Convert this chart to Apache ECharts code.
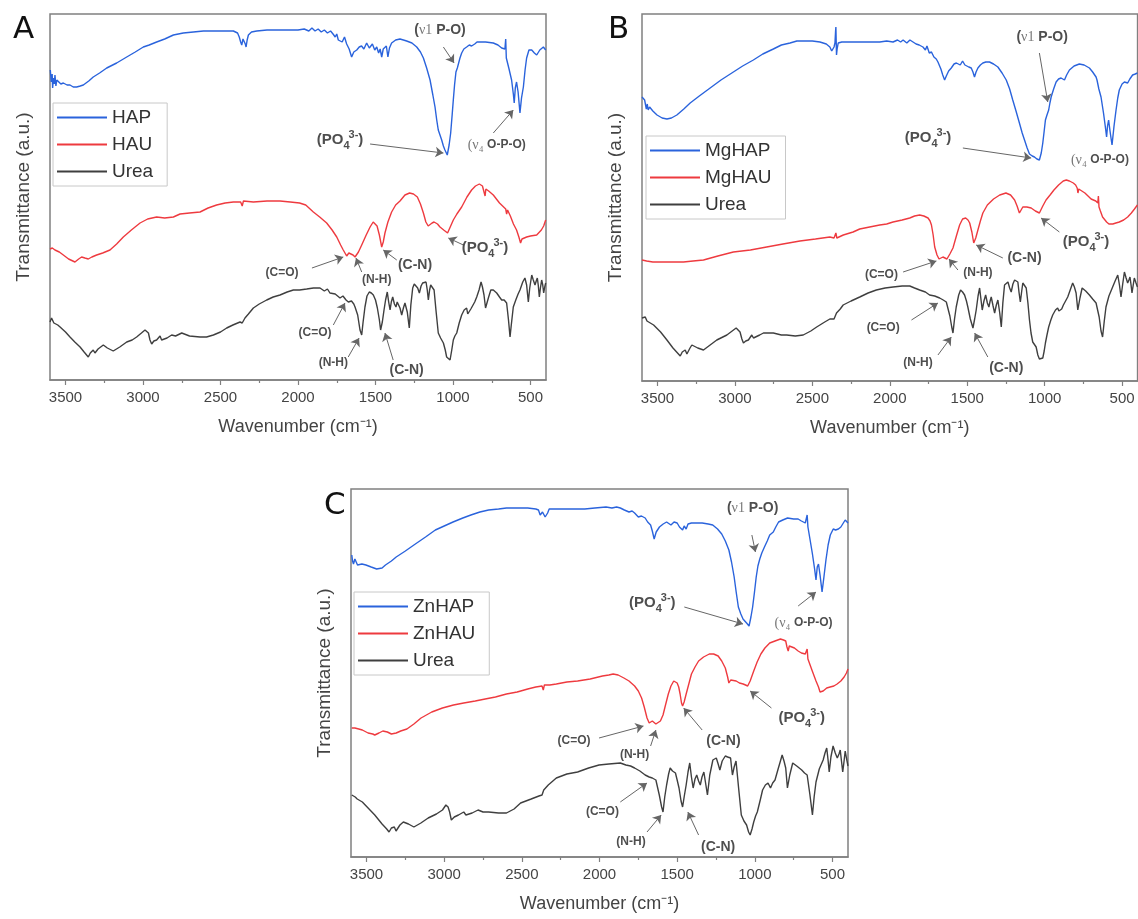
<!DOCTYPE html>
<html>
<head>
<meta charset="utf-8">
<script src="https://cdn.jsdelivr.net/npm/echarts@6.0.0/dist/echarts.min.js"></script>
<style>
html, body { margin: 0; padding: 0; background: #fff; }
#chart { width: 1138px; height: 919px; }
</style>
</head>
<body>
<div id="chart"></div>
<script>
// wavenumber axis (cm-1)
const xTicks = [500, 1000, 1500, 2000, 2500, 3000, 3500];
const xMinorTicks = [750, 1250, 1750, 2250, 2750, 3250];

// ---- panel A : [wavenumber, transmittance (a.u., offset)] ----
const hapA = [[3598,310],[3592,298],[3586,306],[3583,292],[3578,302],[3572,296],[3568,305],[3562,294],[3556,300],[3546,298],[3530,296],[3514,297],[3490,295],[3471,295],[3450,293],[3428,293],[3405,294],[3385,295],[3350,299],[3321,303],[3280,307],[3234,312],[3170,317],[3105,323],[3050,328],[2998,333],[2960,335],[2912,338],[2860,341],[2804,345],[2740,347],[2675,348],[2610,349],[2546,349],[2480,349],[2417,349],[2390,347],[2379,343],[2370,338],[2363,335],[2355,341],[2348,340],[2340,336],[2335,333],[2328,340],[2320,345],[2300,348],[2266,349],[2200,350],[2116,350],[2050,350],[2000,350],[1960,351],[1930,349],[1910,352],[1890,349],[1870,351],[1850,348],[1830,350],[1810,347],[1790,349],[1774,346],[1760,343],[1750,346],[1740,340],[1729,342],[1715,338],[1700,343],[1686,336],[1670,331],[1654,323],[1640,328],[1621,330],[1605,333],[1590,334],[1575,331],[1557,337],[1540,332],[1520,336],[1505,330],[1492,333],[1480,327],[1470,331],[1460,323],[1450,331],[1440,329],[1430,334],[1420,323],[1410,332],[1396,337],[1370,340],[1342,341],[1320,340],[1299,339],[1265,337],[1234,333],[1210,328],[1191,322],[1170,312],[1148,300],[1130,285],[1116,273],[1105,260],[1095,250],[1084,245],[1073,240],[1062,234],[1052,230],[1037,225],[1025,235],[1015,247],[1005,266],[998,280],[990,295],[981,308],[972,312],[966,313],[955,322],[944,327],[930,331],[912,333],[895,335],[880,334],[870,332],[860,336],[845,338],[826,338],[790,338],[740,337],[710,335],[686,332],[665,331],[660,341],[656,322],[640,312],[622,300],[610,285],[605,277],[598,292],[590,298],[580,288],[568,267],[558,282],[546,293],[535,310],[525,322],[510,330],[492,330],[475,327],[460,325],[440,330],[417,333],[402,330]];
const hauA = [[3600,131],[3585,132],[3568,130],[3540,128],[3514,125],[3480,121],[3439,118],[3415,121],[3396,123],[3375,122],[3353,121],[3330,123],[3299,125],[3260,127],[3213,130],[3170,136],[3127,143],[3075,150],[3019,157],[2970,161],[2912,163],[2860,162],[2804,163],[2761,166],[2700,167],[2632,168],[2580,172],[2525,175],[2470,177],[2417,178],[2370,178],[2360,174],[2352,179],[2340,178],[2288,178],[2200,179],[2116,179],[2050,178],[1990,177],[1950,175],[1901,168],[1860,163],[1815,157],[1780,150],[1750,143],[1725,135],[1708,130],[1686,124],[1672,127],[1660,129],[1645,125],[1632,123],[1610,128],[1589,135],[1560,145],[1535,153],[1515,158],[1503,157],[1490,154],[1475,145],[1460,133],[1450,138],[1439,147],[1420,158],[1396,168],[1370,175],[1342,179],[1310,185],[1280,187],[1255,186],[1230,183],[1210,176],[1191,167],[1175,158],[1160,154],[1148,153],[1135,157],[1122,158],[1100,156],[1084,153],[1060,150],[1035,147],[1015,154],[998,160],[975,166],[944,173],[910,183],[880,190],[855,194],[830,196],[810,194],[798,193],[793,184],[788,191],[770,189],[740,185],[720,181],[700,177],[680,174],[660,171],[654,166],[648,170],[630,164],[610,156],[590,150],[575,143],[564,137],[555,141],[545,142],[525,143],[500,144],[460,145],[430,150],[415,154],[402,160]];
const ureaA = [[3600,58],[3590,62],[3583,60],[3575,57],[3568,57],[3550,55],[3535,53],[3500,48],[3471,43],[3440,38],[3406,33],[3380,28],[3353,23],[3340,27],[3330,25],[3321,30],[3310,27],[3299,27],[3290,31],[3282,33],[3256,35],[3230,32],[3192,29],[3150,33],[3105,38],[3070,40],[3041,43],[3010,47],[2987,50],[2975,49],[2965,47],[2955,40],[2944,36],[2930,39],[2912,40],[2890,44],[2880,40],[2869,39],[2845,42],[2815,45],[2790,44],[2750,47],[2700,44],[2632,43],[2590,43],[2546,45],[2500,48],[2460,52],[2420,55],[2374,58],[2360,57],[2342,62],[2320,66],[2288,72],[2250,76],[2202,80],[2160,83],[2116,85],[2070,88],[2030,90],[1990,90],[1944,91],[1900,92],[1858,92],[1830,89],[1810,91],[1794,87],[1760,86],[1729,82],[1710,84],[1690,80],[1675,78],[1655,79],[1640,76],[1632,73],[1615,65],[1600,50],[1589,45],[1580,58],[1568,73],[1555,84],[1540,88],[1527,87],[1514,85],[1500,80],[1488,72],[1475,60],[1467,50],[1456,58],[1445,70],[1435,80],[1424,88],[1415,78],[1406,70],[1398,78],[1389,83],[1378,76],[1368,73],[1360,78],[1353,80],[1342,72],[1331,65],[1320,72],[1310,77],[1295,68],[1282,52],[1272,75],[1260,92],[1250,96],[1239,97],[1228,92],[1217,87],[1206,94],[1196,97],[1185,98],[1174,98],[1166,90],[1159,80],[1151,90],[1144,95],[1133,93],[1122,90],[1110,70],[1095,47],[1080,42],[1062,37],[1050,30],[1041,23],[1030,22],[1019,20],[1008,30],[998,40],[988,44],[976,47],[960,57],[944,65],[928,70],[912,72],[905,66],[895,67],[885,71],[873,73],[860,78],[847,83],[832,90],[819,98],[810,93],[800,85],[790,72],[782,70],[770,83],[756,90],[740,90],[718,87],[700,83],[686,80],[670,80],[654,77],[642,60],[632,43],[624,55],[611,73],[595,80],[580,86],[568,90],[550,98],[536,102],[525,95],[514,78],[505,92],[492,105],[482,100],[471,95],[463,99],[456,102],[450,95],[443,83],[436,92],[428,100],[421,95],[415,87],[408,93],[402,97]];

// ---- panel B ----
const mghapB = [[3600,284],[3590,282],[3583,281],[3577,276],[3572,272],[3566,277],[3560,271],[3551,274],[3530,270],[3503,266],[3470,263],[3439,262],[3410,263],[3375,266],[3330,272],[3289,278],[3230,285],[3160,293],[3090,301],[3010,309],[2950,315],[2881,321],[2820,327],[2752,332],[2700,336],[2644,338],[2600,340],[2559,340],[2500,340],[2451,339],[2410,337],[2387,334],[2375,330],[2369,328],[2360,334],[2354,338],[2350,350],[2348,354],[2346,340],[2344,326],[2340,332],[2333,338],[2310,339],[2279,339],[2194,339],[2120,339],[2065,339],[2020,340],[1979,339],[1950,341],[1930,339],[1914,341],[1890,338],[1870,341],[1850,339],[1830,337],[1810,336],[1786,334],[1770,331],[1760,335],[1745,328],[1731,329],[1715,324],[1700,322],[1689,319],[1670,312],[1658,306],[1646,301],[1635,305],[1620,310],[1603,313],[1585,317],[1570,318],[1560,320],[1545,316],[1530,320],[1515,316],[1506,318],[1490,314],[1480,316],[1474,313],[1463,309],[1453,304],[1443,309],[1431,313],[1415,316],[1399,318],[1380,319],[1356,319],[1330,317],[1302,314],[1275,308],[1248,301],[1226,292],[1206,281],[1185,270],[1163,258],[1145,248],[1130,241],[1113,233],[1098,227],[1080,225],[1066,224],[1050,222],[1034,221],[1022,228],[1012,238],[1003,250],[995,261],[985,266],[974,271],[966,278],[958,284],[942,292],[926,299],[910,302],[894,303],[883,302],[872,301],[858,306],[840,311],[810,315],[776,317],[745,316],[711,313],[690,309],[668,304],[664,306],[662,301],[650,292],[636,284],[620,268],[608,254],[600,244],[594,255],[587,261],[578,250],[565,236],[552,255],[539,271],[528,283],[518,291],[500,297],[485,299],[474,297],[464,298],[450,302],[432,306],[415,307],[401,308]];
const mghauB = [[3600,121],[3570,120],[3530,119],[3471,119],[3400,119],[3332,119],[3270,120],[3203,121],[3110,125],[3010,129],[2900,131],[2795,134],[2690,137],[2580,140],[2480,142],[2387,144],[2360,143],[2354,141],[2348,148],[2342,143],[2300,146],[2237,149],[2194,152],[2130,154],[2065,156],[2020,157],[1979,159],[1920,161],[1871,163],[1840,165],[1807,166],[1780,165],[1753,163],[1740,160],[1731,156],[1720,146],[1710,134],[1695,126],[1682,122],[1670,123],[1657,124],[1645,123],[1631,122],[1612,127],[1592,133],[1570,145],[1549,156],[1530,162],[1510,163],[1495,161],[1484,158],[1470,149],[1458,138],[1445,143],[1431,151],[1415,160],[1399,168],[1370,176],[1330,182],[1290,186],[1250,188],[1220,186],[1194,181],[1178,175],[1163,168],[1152,171],[1141,174],[1115,174],[1087,173],[1060,170],[1034,168],[1012,175],[991,181],[965,186],[940,191],[910,196],[880,200],[860,201],[840,200],[815,198],[800,196],[790,193],[785,188],[780,192],[770,193],[740,188],[700,182],[670,180],[657,178],[653,185],[649,174],[640,170],[626,164],[600,159],[585,157],[575,156],[560,157],[540,158],[518,159],[490,161],[464,164],[440,168],[420,172],[401,176]];
const ureaB = [[3600,63],[3590,65],[3579,64],[3568,60],[3557,58],[3525,56],[3480,49],[3439,41],[3400,33],[3353,25],[3340,29],[3321,31],[3310,27],[3300,28],[3290,33],[3278,36],[3240,33],[3203,31],[3160,36],[3117,41],[3052,46],[2992,53],[2980,52],[2967,49],[2955,42],[2945,38],[2930,40],[2913,41],[2891,46],[2880,43],[2870,42],[2840,46],[2816,48],[2752,48],[2700,46],[2666,46],[2610,45],[2559,46],[2510,50],[2472,54],[2420,59],[2387,62],[2360,62],[2354,64],[2344,68],[2320,72],[2301,76],[2250,80],[2194,84],[2140,88],[2087,91],[2030,93],[1979,94],[1920,95],[1871,95],[1840,93],[1807,91],[1770,89],[1743,86],[1710,85],[1678,83],[1655,81],[1635,79],[1612,65],[1600,54],[1592,48],[1582,62],[1571,74],[1555,86],[1543,91],[1530,89],[1517,86],[1505,80],[1496,74],[1480,62],[1463,53],[1452,62],[1442,71],[1430,85],[1420,93],[1410,80],[1403,71],[1392,80],[1381,86],[1370,78],[1360,74],[1352,80],[1345,84],[1333,75],[1323,68],[1312,76],[1302,81],[1290,68],[1280,54],[1270,78],[1259,96],[1248,98],[1237,99],[1226,93],[1216,89],[1205,97],[1194,101],[1184,100],[1173,99],[1165,88],[1157,79],[1148,90],[1141,98],[1130,96],[1119,93],[1108,78],[1098,61],[1088,48],[1077,39],[1066,37],[1055,34],[1044,26],[1034,22],[1023,22],[1012,23],[1003,30],[995,38],[985,46],[974,54],[960,61],[948,66],[930,71],[916,73],[908,70],[900,68],[890,72],[879,76],[865,80],[851,84],[835,91],[819,98],[808,94],[797,88],[786,71],[772,83],[758,93],[735,90],[711,86],[690,82],[668,78],[648,64],[636,50],[626,44],[615,60],[604,74],[585,85],[561,94],[545,100],[528,106],[517,96],[507,84],[496,97],[485,109],[474,103],[464,98],[456,101],[449,104],[442,96],[436,88],[428,96],[421,103],[410,98],[401,94]];

// ---- panel C ----
const znhapC = [[3595,302],[3590,296],[3584,293],[3575,298],[3566,300],[3558,292],[3550,292],[3530,293],[3504,292],[3470,290],[3435,288],[3424,287],[3400,289],[3378,292],[3340,296],[3309,300],[3250,306],[3195,312],[3120,320],[3057,327],[3000,331],[2943,335],[2880,339],[2828,342],[2770,345],[2714,347],[2650,348],[2599,349],[2530,349],[2462,349],[2410,348],[2393,347],[2382,342],[2375,340],[2367,345],[2359,344],[2350,340],[2343,339],[2334,344],[2324,348],[2280,348],[2233,348],[2160,348],[2095,348],[2030,349],[1958,350],[1920,349],[1890,350],[1866,349],[1840,347],[1810,345],[1790,346],[1774,344],[1750,340],[1730,341],[1706,339],[1690,335],[1671,332],[1660,326],[1648,318],[1635,325],[1614,330],[1590,333],[1568,335],[1540,332],[1520,335],[1500,334],[1485,330],[1475,332],[1465,327],[1455,331],[1442,328],[1430,333],[1408,334],[1370,334],[1339,334],[1300,333],[1271,332],[1240,328],[1213,323],[1190,316],[1167,307],[1150,295],[1133,280],[1120,265],[1106,250],[1090,243],[1076,238],[1065,236],[1053,234],[1037,231],[1025,240],[1014,250],[1002,265],[991,280],[980,291],[968,298],[955,304],[938,310],[920,316],[904,322],[892,324],[881,325],[865,330],[847,335],[820,337],[789,339],[750,338],[721,338],[700,336],[675,334],[665,333],[663,342],[658,330],[645,318],[629,303],[615,288],[606,277],[598,290],[590,293],[580,282],[567,265],[555,280],[542,297],[528,312],[514,322],[495,328],[480,327],[462,328],[446,330],[430,334],[418,337],[408,335],[400,334]];
const znhauC = [[3595,129],[3575,129],[3550,128],[3527,127],[3490,124],[3460,123],[3447,122],[3420,124],[3395,126],[3366,125],[3340,123],[3309,124],[3280,126],[3240,128],[3195,133],[3149,139],[3080,145],[3011,149],[2940,152],[2874,154],[2800,156],[2736,158],[2670,160],[2599,163],[2530,165],[2462,168],[2410,170],[2370,171],[2362,167],[2355,172],[2320,172],[2278,173],[2210,175],[2141,176],[2060,178],[1981,181],[1940,182],[1912,183],[1880,182],[1843,179],[1810,176],[1774,171],[1750,166],[1729,159],[1712,150],[1694,139],[1680,134],[1671,132],[1660,136],[1648,136],[1637,133],[1625,132],[1608,136],[1591,142],[1575,152],[1557,163],[1540,171],[1522,176],[1510,176],[1500,174],[1490,170],[1481,163],[1472,154],[1465,151],[1455,155],[1442,163],[1425,173],[1408,183],[1385,190],[1362,196],[1330,200],[1293,203],[1265,203],[1236,201],[1213,196],[1190,189],[1175,180],[1167,174],[1155,177],[1144,178],[1120,176],[1099,174],[1075,173],[1060,172],[1046,171],[1030,176],[1007,186],[985,195],[961,203],[935,209],[904,214],[870,216],[835,218],[815,217],[801,216],[793,210],[785,206],[778,211],[767,211],[745,209],[721,206],[700,204],[675,203],[665,202],[663,208],[658,198],[652,196],[630,186],[606,176],[590,170],[580,165],[572,163],[560,166],[537,169],[515,170],[491,171],[470,173],[446,176],[425,180],[410,184],[400,188]];
const ureaC = [[3595,62],[3585,63],[3573,60],[3560,58],[3527,55],[3490,49],[3447,42],[3400,33],[3370,28],[3355,25],[3340,29],[3321,30],[3310,26],[3298,27],[3285,32],[3263,35],[3230,33],[3195,30],[3150,34],[3103,39],[3050,43],[3011,47],[2989,52],[2975,50],[2965,45],[2954,37],[2935,40],[2908,42],[2874,45],[2860,42],[2851,40],[2820,44],[2782,47],[2750,45],[2714,45],[2650,44],[2599,44],[2550,48],[2508,54],[2440,58],[2390,61],[2370,62],[2359,67],[2330,72],[2278,79],[2210,83],[2141,85],[2070,89],[2003,92],[1940,93],[1866,94],[1830,92],[1800,91],[1774,89],[1740,86],[1706,82],[1680,80],[1660,79],[1637,77],[1615,62],[1600,50],[1591,45],[1580,60],[1568,72],[1555,83],[1545,89],[1530,86],[1511,84],[1500,77],[1488,69],[1475,56],[1465,50],[1455,60],[1442,72],[1430,85],[1419,94],[1408,80],[1397,69],[1385,78],[1374,82],[1362,76],[1351,72],[1340,80],[1328,85],[1315,72],[1305,62],[1290,82],[1270,97],[1258,98],[1248,99],[1236,93],[1225,87],[1210,96],[1190,101],[1175,100],[1156,99],[1150,90],[1144,82],[1133,90],[1121,96],[1105,70],[1087,42],[1070,36],[1053,32],[1040,25],[1030,22],[1018,28],[1007,35],[995,41],[984,45],[965,57],[950,67],[932,72],[915,74],[899,69],[885,74],[870,77],[850,88],[835,96],[824,102],[812,96],[801,89],[790,69],[775,82],[756,94],[730,91],[698,87],[680,84],[663,82],[645,62],[629,42],[618,60],[606,75],[585,88],[560,97],[548,104],[537,109],[529,98],[521,85],[510,100],[496,111],[482,104],[469,99],[458,103],[450,107],[442,96],[434,85],[426,95],[418,106],[410,99],[400,91]];

// band labels [wavenumber, a.u., text] and arrows [from, to]
const PO4 = '{p|(PO}{sub|4}{sup|3-}{p|)}';
const labelsA = [[1084,350,'{b|(}{g|ν1}{b| P-O)}'],[1729,240,PO4],[718,235,'{g|(ν₄ }{s|O-P-O)}'],[2103,107,'{s|(C=O)}'],[1492,100,'{s|(N-H)}'],[1245,115,'{b|(C-N)}'],[794,132,PO4],[1890,47,'{s|(C=O)}'],[1772,17,'{s|(N-H)}'],[1299,10,'{b|(C-N)}']];
const arrowsA = [[[1062,333],[993,317]],[[1535,236],[1062,227]],[[740,247],[611,270]],[[1910,112],[1708,123]],[[1589,108],[1626,122]],[[1363,120],[1450,130]],[[933,135],[1030,142]],[[1772,55],[1697,77]],[[1676,23],[1606,42]],[[1386,20],[1439,47]]];
const labelsB = [[1016,344,'{b|(}{g|ν1}{b| P-O)}'],[1753,243,PO4],[643,221,'{g|(ν₄ }{s|O-P-O)}'],[2054,106,'{s|(C=O)}'],[1431,108,'{s|(N-H)}'],[1130,123,'{b|(C-N)}'],[733,139,PO4],[2043,53,'{s|(C=O)}'],[1818,18,'{s|(N-H)}'],[1248,13,'{b|(C-N)}']];
const arrowsB = [[[1034,328],[980,279]],[[1528,233],[1087,223]],[[1914,109],[1699,120]],[[1560,111],[1618,122]],[[1270,123],[1442,136]],[[905,149],[1023,163]],[[1860,61],[1689,78]],[[1689,26],[1603,44]],[[1367,24],[1452,48]]];
const labelsC = [[1014,349,'{b|(}{g|ν1}{b| P-O)}'],[1660,254,PO4],[686,234,'{g|(ν₄ }{s|O-P-O)}'],[2164,116,'{s|(C=O)}'],[1774,102,'{s|(N-H)}'],[1202,116,'{b|(C-N)}'],[698,139,PO4],[1981,45,'{s|(C=O)}'],[1797,15,'{s|(N-H)}'],[1236,10,'{b|(C-N)}']];
const arrowsC = [[[1019,322],[996,305]],[[1454,250],[1076,233]],[[721,251],[606,265]],[[2003,119],[1717,131]],[[1671,111],[1637,127]],[[1339,127],[1458,149]],[[893,149],[1030,166]],[[1866,55],[1694,74]],[[1694,25],[1603,42]],[[1362,22],[1431,45]]];

const colors = ['#2a63dc', '#ee3a3f', '#3f3f3f'];
const sans = 'Liberation Sans, Arial, sans-serif';

const panels = [
  { letter: 'A', grid: { left: 50, top: 14, width: 496, height: 366 }, yMax: 366,
    names: ['HAP', 'HAU', 'Urea'], data: [hapA, hauA, ureaA], labels: labelsA, arrows: arrowsA,
    legend: { left: 53, top: 103 }, title: { left: 13, top: 14 } },
  { letter: 'B', grid: { left: 642, top: 14, width: 496, height: 367 }, yMax: 367,
    names: ['MgHAP', 'MgHAU', 'Urea'], data: [mghapB, mghauB, ureaB], labels: labelsB, arrows: arrowsB,
    legend: { left: 646, top: 136 }, title: { left: 608, top: 14 } },
  { letter: 'C', grid: { left: 351, top: 489, width: 497, height: 368 }, yMax: 368,
    names: ['ZnHAP', 'ZnHAU', 'Urea'], data: [znhapC, znhauC, ureaC], labels: labelsC, arrows: arrowsC,
    legend: { left: 354, top: 592 }, title: { left: 324, top: 490 } }
];

const richText = {
  b: { fontSize: 14, fontWeight: 'bold', color: '#222', fontFamily: sans, lineHeight: 22 },
  s: { fontSize: 12, fontWeight: 'bold', color: '#222', fontFamily: sans, lineHeight: 22 },
  p: { fontSize: 15, fontWeight: 'bold', color: '#222', fontFamily: sans, lineHeight: 22 },
  sub: { fontSize: 11, fontWeight: 'bold', color: '#222', fontFamily: sans, lineHeight: 22, verticalAlign: 'bottom' },
  sup: { fontSize: 11, fontWeight: 'bold', color: '#222', fontFamily: sans, lineHeight: 22, verticalAlign: 'top', padding: [0, 0, 0, -1] },
  g: { fontSize: 14, color: '#555', fontFamily: 'Liberation Serif, DejaVu Serif, serif', lineHeight: 22 }
};

const option = {
  backgroundColor: '#fff',
  animation: false,
  title: [], legend: [], grid: [], xAxis: [], yAxis: [], series: []
};

panels.forEach(function (pn, i) {
  option.title.push({
    text: pn.letter, left: pn.title.left, top: pn.title.top, padding: 0,
    textStyle: { fontSize: 31, fontWeight: 'normal', color: '#111', fontFamily: 'DejaVu Sans, sans-serif' }
  });
  option.grid.push(Object.assign({ show: true, borderColor: '#808080', borderWidth: 1.5 }, pn.grid));
  option.legend.push({
    orient: 'vertical', left: pn.legend.left, top: pn.legend.top,
    data: pn.names, icon: 'rect', itemWidth: 50, itemHeight: 2, itemGap: 8,
    padding: [5, 14, 5, 4], borderColor: '#c8c8c8', borderWidth: 1, backgroundColor: '#fff',
    textStyle: { fontSize: 19, color: '#333', fontFamily: sans }
  });
  // main wavenumber axis (labels + major ticks)
  option.xAxis.push({
    type: 'value', gridIndex: i, min: 400, max: 3600, inverse: true, position: 'bottom',
    name: 'Wavenumber (cm⁻¹)', nameLocation: 'middle', nameGap: 38,
    nameTextStyle: { fontSize: 18, color: '#444', fontFamily: sans },
    axisLine: { lineStyle: { color: '#808080', width: 1.5 } },
    axisTick: { customValues: xTicks, length: 5, lineStyle: { color: '#808080', width: 1.2 } },
    axisLabel: { customValues: xTicks, fontSize: 15, color: '#444', margin: 10, fontFamily: sans,
      formatter: function (v) { return String(v); } },
    splitLine: { show: false }
  });
  // minor ticks
  option.xAxis.push({
    type: 'value', gridIndex: i, min: 400, max: 3600, inverse: true, position: 'bottom',
    axisLine: { show: false },
    axisTick: { customValues: xMinorTicks, length: 3, lineStyle: { color: '#808080', width: 1.2 } },
    axisLabel: { show: false }, splitLine: { show: false }
  });
  option.yAxis.push({
    type: 'value', gridIndex: i, min: 0, max: pn.yMax,
    name: 'Transmittance (a.u.)', nameLocation: 'middle', nameGap: 17,
    nameTextStyle: { fontSize: 19, color: '#444', fontFamily: sans },
    axisLine: { show: false }, axisTick: { show: false }, axisLabel: { show: false },
    splitLine: { show: false }
  });
  pn.names.forEach(function (nm, k) {
    option.series.push({
      name: nm, type: 'line', xAxisIndex: 2 * i, yAxisIndex: i,
      data: pn.data[k], showSymbol: false, symbol: 'none', smooth: false,
      lineStyle: { color: colors[k], width: 1.4 }, itemStyle: { color: colors[k] }
    });
  });
  option.series.push({
    name: 'notes' + pn.letter, type: 'scatter', xAxisIndex: 2 * i, yAxisIndex: i, z: 5,
    symbolSize: 1, itemStyle: { color: 'rgba(0,0,0,0)' },
    data: pn.labels,
    label: {
      show: true, position: 'inside',
      formatter: function (p) { return p.data[2]; },
      rich: richText
    },
    markLine: {
      silent: true, symbol: ['none', 'arrow'], symbolSize: 8,
      lineStyle: { color: '#666', width: 1, type: 'solid' },
      label: { show: false },
      data: pn.arrows.map(function (a) { return [{ coord: a[0] }, { coord: a[1] }]; })
    }
  });
});

const chart = echarts.init(document.getElementById('chart'));
chart.setOption(option);
window.onresize = function () { chart.resize(); };
</script>
</body>
</html>
